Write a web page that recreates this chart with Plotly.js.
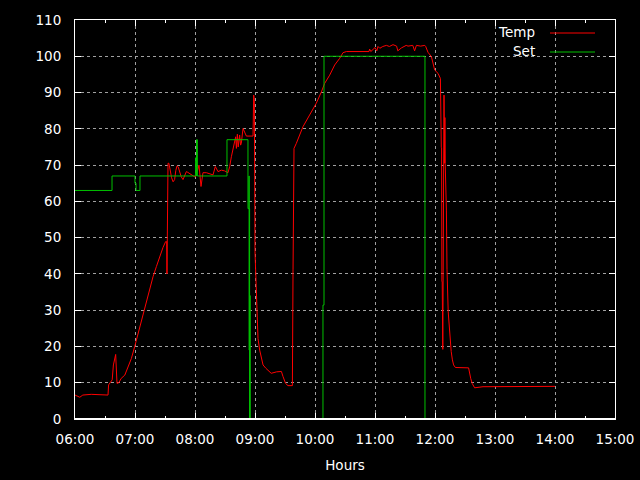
<!DOCTYPE html>
<html>
<head>
<meta charset="utf-8">
<script src="https://cdn.plot.ly/plotly-3.0.1.min.js"></script>
<style>
  html, body { margin: 0; padding: 0; background: #000; }
  #chart { width: 640px; height: 480px; }
</style>
</head>
<body>
<div id="chart"></div>
<script>
// Time of day in decimal hours
const tempHours = [
  6.00, 6.08, 6.13, 6.27, 6.55, 6.56, 6.62, 6.64, 6.678, 6.69, 6.70, 6.73, 6.77, 6.83, 6.88, 6.94,
  6.994, 7.03, 7.08, 7.13, 7.19, 7.244, 7.30, 7.356, 7.41, 7.467, 7.51, 7.528, 7.533, 7.54, 7.55,
  7.565, 7.59, 7.61, 7.635, 7.66, 7.68, 7.70, 7.72, 7.74, 7.77, 7.80, 7.83, 7.856, 7.88, 7.92,
  7.96, 8.00, 8.02, 8.067, 8.10, 8.133, 8.19, 8.244, 8.30, 8.339, 8.383, 8.439, 8.494, 8.55,
  8.578, 8.606, 8.633, 8.661, 8.678, 8.69, 8.706, 8.72, 8.744, 8.76, 8.772, 8.80, 8.828, 8.856,
  8.967, 8.978, 8.989, 9.00, 9.022, 9.034, 9.05, 9.078, 9.11, 9.134, 9.18, 9.245, 9.27, 9.36,
  9.44, 9.467, 9.51, 9.55, 9.623, 9.634, 9.65, 9.689, 9.70, 9.80, 9.91, 10.02, 10.107, 10.16,
  10.245, 10.328, 10.41, 10.467, 10.523, 10.90, 10.91, 10.93, 11.00, 11.03, 11.05, 11.08, 11.13,
  11.19, 11.24, 11.30, 11.36, 11.38, 11.44, 11.52, 11.55, 11.63, 11.66, 11.69, 11.76, 11.83,
  11.845, 11.883, 11.94, 11.995, 12.05, 12.09, 12.105, 12.11, 12.115, 12.12, 12.13, 12.14, 12.15,
  12.16, 12.165, 12.17, 12.19, 12.20, 12.22, 12.24, 12.25, 12.27, 12.29, 12.31, 12.34, 12.44,
  12.52, 12.56, 12.595, 12.62, 12.66, 12.80, 14.00
];
const tempValues = [
  6.6, 6.0, 6.6, 6.8, 6.6, 9.4, 10.8, 14.9, 17.8, 14.0, 9.8, 10.0, 11.2, 12.1, 14.4, 16.7,
  19.9, 22.2, 25.5, 28.2, 31.9, 36.0, 39.2, 42.0, 44.8, 47.3, 48.9, 48.9, 40.0, 66.4, 70.5,
  70.5, 68.0, 66.5, 65.4, 66.0, 68.5, 69.8, 69.5, 68.2, 66.8, 66.0, 67.2, 68.2, 68.0, 67.6,
  67.0, 66.7, 67.0, 70.0, 64.1, 67.9, 67.9, 67.5, 67.3, 69.6, 68.2, 68.6, 68.4, 67.9,
  69.6, 72.3, 74.6, 76.2, 77.8, 74.6, 78.5, 75.0, 78.3, 75.5, 76.0, 80.1, 78.8, 78.0,
  78.0, 89.3, 88.0, 46.1, 36.5, 25.9, 22.2, 19.0, 16.3, 14.9, 14.0, 13.0, 12.6, 13.0,
  13.1, 11.7, 9.8, 9.2, 9.2, 41.1, 74.6, 76.0, 76.5, 80.6, 83.8, 87.0, 90.2, 92.5,
  94.8, 97.6, 99.4, 101.0, 101.3, 101.3, 102.0, 101.3, 102.4, 101.5, 102.7, 102.2, 102.7,
  103.0, 102.7, 103.2, 102.8, 101.5, 102.3, 103.0, 102.8, 103.0, 101.5, 103.0, 102.8, 103.0,
  102.7, 101.1, 99.9, 96.2, 95.3, 93.9, 74.8, 74.8, 37.9, 37.9, 19.2, 70.5, 89.3,
  70.5, 83.1, 70.5, 57.6, 41.3, 29.6, 25.4, 21.8, 18.6, 16.3, 14.9, 14.2, 14.1,
  14.2, 14.1, 11.2, 9.8, 8.6, 8.9, 9.0
];
const setHours = [
  6.00, 6.617, 7.00, 7.017, 7.083, 8.01, 8.02, 8.025, 8.04, 8.533, 8.883, 8.90, 8.903, 8.906,
  8.91, 8.913, 8.92, 10.133, 10.15, 11.833, 14.00
];
const setValues = [
  63, 67, 65, 63, 67, 72, 67, 77, 67, 77, 58, 67, 19, 58,
  0, 34, 0, 31.4, 100, 0, 0
];
const tickHours = [6, 7, 8, 9, 10, 11, 12, 13, 14, 15];
const tickLabels = ['06:00', '07:00', '08:00', '09:00', '10:00', '11:00', '12:00', '13:00', '14:00', '15:00'];
const minorHours = [6.5, 7.5, 8.5, 9.5, 10.5, 11.5, 12.5, 13.5, 14.5];
const seriesNames = ['Temp', 'Set'];
const seriesColors = ['#ff0000', '#00c000'];

const FONT = 'DejaVu Sans';
const FS = 13.5;

const traces = [
  { x: tempHours, y: tempValues, name: seriesNames[0], type: 'scatter', mode: 'lines',
    line: { color: seriesColors[0], width: 1 }, showlegend: false },
  { x: setHours, y: setValues, name: seriesNames[1], type: 'scatter', mode: 'lines',
    line: { color: seriesColors[1], width: 1, shape: 'hv' }, showlegend: false }
];

// Plot area in pixels: x 75..615, y 20..419
const L = 75, R = 615, T = 20, B = 419;
const px = v => (v - L) / (R - L);
const py = v => (B - v) / (B - T);

const shapes = [
  { type: 'rect', xref: 'paper', yref: 'paper', x0: px(500), x1: px(606), y0: py(61), y1: 1,
    fillcolor: '#000', line: { width: 0 }, layer: 'between' },
  // bottom border drawn over traces (as the frame covers values at 0 in the original)
  { type: 'line', xref: 'paper', yref: 'paper', x0: 0, x1: 1, y0: 0, y1: 0,
    line: { color: '#fff', width: 2 }, layer: 'above' }
];
const annotations = [];
const legendY = [33, 52];
seriesNames.forEach((n, i) => {
  annotations.push({ xref: 'paper', yref: 'paper', x: px(537), y: py(legendY[i] - 1), text: n,
    showarrow: false, xanchor: 'right', yanchor: 'middle',
    font: { family: FONT, size: FS, color: '#fff' } });
  shapes.push({ type: 'line', xref: 'paper', yref: 'paper', x0: px(550), x1: px(595),
    y0: py(legendY[i]), y1: py(legendY[i]), line: { color: seriesColors[i], width: 1 }, layer: 'above' });
});

const axisCommon = {
  showline: true, linecolor: '#fff', linewidth: 1, mirror: 'allticks',
  ticks: 'inside', ticklen: 6, tickcolor: '#fff', tickwidth: 1,
  showgrid: true, gridcolor: '#a0a0a0', griddash: 'dot', gridwidth: 1,
  zeroline: false, tickfont: { family: FONT, size: FS, color: '#fff' }, fixedrange: true
};

const layout = {
  width: 640, height: 480,
  paper_bgcolor: '#000', plot_bgcolor: '#000',
  margin: { l: L, r: 640 - R, t: T, b: 480 - B },
  showlegend: false,
  xaxis: Object.assign({}, axisCommon, {
    range: [6, 15], tickmode: 'array', tickvals: tickHours, ticktext: tickLabels,
    minor: { tickmode: 'array', tickvals: minorHours, ticks: 'inside', ticklen: 3, tickcolor: '#fff', showgrid: false },
    ticklabelstandoff: 8,
    title: { text: 'Hours', font: { family: FONT, size: FS, color: '#fff' }, standoff: 14 }
  }),
  yaxis: Object.assign({}, axisCommon, {
    range: [0, 110], tickmode: 'linear', tick0: 0, dtick: 10,
    ticklabelstandoff: 10
  }),
  shapes: shapes,
  annotations: annotations
};

Plotly.newPlot('chart', traces, layout, { displayModeBar: false, staticPlot: true });
</script>
</body>
</html>
